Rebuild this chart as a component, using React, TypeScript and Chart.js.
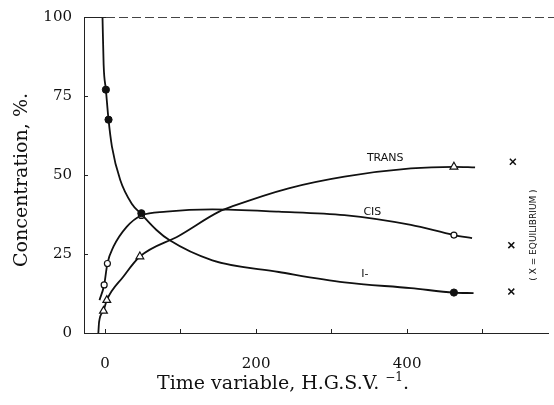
import React, { useEffect, useRef } from "react";
import { Chart, registerables } from "chart.js";

Chart.register(...registerables);

// ---- Data ----
// Smooth curves (values along the drawn lines)
const iCurveX = [-3.5, -2, 1, 4.5, 9, 20, 35, 48, 68, 85, 142, 230, 317, 405, 462, 488];
const iCurveY = [100, 85, 77, 67.5, 59, 48.4, 41, 37.6, 32.6, 29.4, 23, 19.3, 16, 14.2, 12.8, 12.6];

const cisCurveX = [-7.5, -1.3, 3, 11, 28.5, 48, 81, 142, 230, 317, 405, 462, 486];
const cisCurveY = [10.4, 15.2, 22, 27.3, 33.6, 37.2, 38.4, 39.1, 38.4, 37.3, 34.2, 31, 30];

const transCurveX = [-9, -8, -2.2, 2.2, 24, 46, 98, 151, 170, 243, 317, 405, 462, 490];
const transCurveY = [0, 3.5, 7, 10.4, 17.8, 24.2, 30.8, 38.4, 40.2, 45.8, 49.5, 52.1, 52.6, 52.4];

// Measured points (markers)
const iPointsX = [1, 4.5, 48, 462];
const iPointsY = [77, 67.5, 37.9, 12.8];
const cisPointsX = [-1.3, 3, 48, 462];
const cisPointsY = [15.2, 22, 37.2, 31];
const transPointsX = [-2.2, 2.2, 46, 462];
const transPointsY = [7, 10.4, 24.2, 52.6];
const eqPointsX = [540, 538, 538];
const eqPointsY = [54.2, 27.8, 13.1];

// Axis ticks
const yTicks = [0, 25, 50, 75, 100];
const xTickLabels = [0, 200, 400];

// Curve labels
const curveLabelText = ["TRANS", "CIS", "I-"];
const curveLabelX = [371, 354, 344];
const curveLabelY = [55.4, 38.3, 18.7];
const eqLabelText = "( X = EQUILIBRIUM )";
const eqLabelX = 567;
const eqLabelY = 31;

const yTitle = "Concentration, %.";
const xTitleMain = "Time variable, H.G.S.V.";
const xTitleSup = "\u22121";
const xTitleEnd = ".";

const zip = (xs: number[], ys: number[]) => xs.map((x, i) => ({ x, y: ys[i] }));

const overlayPlugin = {
  id: "overlay",
  afterDatasetsDraw(chart: any) {
    const { ctx, scales, chartArea } = chart;
    const xs = scales.x;
    const ys = scales.y;
    ctx.save();
    // top border (broken, as in a scanned figure)
    ctx.strokeStyle = "#222";
    ctx.lineWidth = 1;
    ctx.beginPath();
    ctx.moveTo(chartArea.left, chartArea.top + 0.5);
    ctx.lineTo(chartArea.left + 22, chartArea.top + 0.5);
    ctx.stroke();
    ctx.setLineDash([9, 4]);
    ctx.strokeStyle = "#444";
    ctx.beginPath();
    ctx.moveTo(chartArea.left + 22, chartArea.top + 0.5);
    ctx.lineTo(554, chartArea.top + 0.5);
    ctx.stroke();
    ctx.setLineDash([]);

    // curve labels
    ctx.fillStyle = "#111";
    ctx.font = '11px "DejaVu Sans"';
    ctx.textAlign = "center";
    ctx.textBaseline = "middle";
    curveLabelText.forEach((t, i) => {
      ctx.fillText(t, xs.getPixelForValue(curveLabelX[i]), ys.getPixelForValue(curveLabelY[i]));
    });

    // equilibrium label, rotated
    ctx.save();
    ctx.translate(xs.getPixelForValue(eqLabelX), ys.getPixelForValue(eqLabelY));
    ctx.rotate(-Math.PI / 2);
    ctx.font = '9px "DejaVu Sans"';
    ctx.fillText(eqLabelText, 0, 0);
    ctx.restore();

    // y axis title
    ctx.save();
    ctx.font = '19px "DejaVu Serif"';
    ctx.fillStyle = "#111";
    ctx.translate(22, 180);
    ctx.rotate(-Math.PI / 2);
    ctx.textAlign = "center";
    ctx.textBaseline = "middle";
    ctx.fillText(yTitle, 0, 0);
    ctx.restore();

    // x axis title with superscript
    ctx.save();
    ctx.fillStyle = "#111";
    ctx.textBaseline = "alphabetic";
    ctx.textAlign = "left";
    const mainFont = '19px "DejaVu Serif"';
    const supFont = '12px "DejaVu Serif"';
    ctx.font = mainFont;
    const w1 = ctx.measureText(xTitleMain + " ").width;
    const w3 = ctx.measureText(xTitleEnd).width;
    ctx.font = supFont;
    const w2 = ctx.measureText(xTitleSup).width;
    const total = w1 + w2 + w3;
    let px = 283 - total / 2;
    const base = 389;
    ctx.font = mainFont;
    ctx.fillText(xTitleMain + " ", px, base);
    px += w1;
    ctx.font = supFont;
    ctx.fillText(xTitleSup, px, base - 8);
    px += w2;
    ctx.font = mainFont;
    ctx.fillText(xTitleEnd, px, base);
    ctx.restore();

    ctx.restore();
  },
};

export default function App() {
  const ref = useRef<HTMLCanvasElement | null>(null);
  useEffect(() => {
    if (!ref.current) return;
    const black = "#111";
    const chart = new Chart(ref.current, {
      type: "scatter",
      data: {
        datasets: [
          {
            label: "I- points",
            data: zip(iPointsX, iPointsY),
            showLine: false,
            pointStyle: "circle",
            pointRadius: 3.6,
            backgroundColor: black,
            borderColor: black,
            borderWidth: 1,
          },
          {
            label: "CIS points",
            data: zip(cisPointsX, cisPointsY),
            showLine: false,
            pointStyle: "circle",
            pointRadius: 3,
            backgroundColor: "#fff",
            borderColor: black,
            borderWidth: 1.2,
          },
          {
            label: "TRANS points",
            data: zip(transPointsX, transPointsY),
            showLine: false,
            pointStyle: "triangle",
            pointRadius: 4.5,
            backgroundColor: "#fff",
            borderColor: black,
            borderWidth: 1.2,
          },
          {
            label: "Equilibrium",
            data: zip(eqPointsX, eqPointsY),
            showLine: false,
            pointStyle: "crossRot",
            pointRadius: 4.2,
            borderColor: black,
            borderWidth: 1.5,
          },
          {
            label: "I- curve",
            data: zip(iCurveX, iCurveY),
            showLine: true,
            pointRadius: 0,
            borderColor: black,
            borderWidth: 1.8,
            cubicInterpolationMode: "monotone",
          },
          {
            label: "CIS curve",
            data: zip(cisCurveX, cisCurveY),
            showLine: true,
            pointRadius: 0,
            borderColor: black,
            borderWidth: 1.8,
            cubicInterpolationMode: "monotone",
          },
          {
            label: "TRANS curve",
            data: zip(transCurveX, transCurveY),
            showLine: true,
            pointRadius: 0,
            borderColor: black,
            borderWidth: 1.8,
            cubicInterpolationMode: "monotone",
          },
        ],
      },
      options: {
        animation: false,
        responsive: false,
        devicePixelRatio: 1,
        layout: { padding: { left: 0, right: 2, top: 17, bottom: 0 } },
        plugins: { legend: { display: false }, tooltip: { enabled: false } },
        scales: {
          x: {
            type: "linear",
            min: -28,
            max: 587,
            afterFit: (s: any) => {
              s.height = 72;
              s.paddingLeft = 0;
              s.paddingRight = 0;
            },
            border: { display: true, color: "#222", width: 1 },
            grid: {
              display: true,
              drawOnChartArea: false,
              drawTicks: true,
              tickLength: -4,
              color: "#222",
            },
            ticks: {
              stepSize: 100,
              includeBounds: false,
              autoSkip: false,
              maxRotation: 0,
              padding: 26,
              color: "#111",
              font: { family: "DejaVu Serif", size: 15 },
              callback: (v: any) => (xTickLabels.includes(Number(v)) ? String(v) : ""),
            },
          },
          y: {
            type: "linear",
            min: 0,
            max: 100,
            afterFit: (s: any) => {
              s.width = 84;
              s.paddingTop = 0;
              s.paddingBottom = 0;
            },
            afterBuildTicks: (s: any) => {
              s.ticks = yTicks.map((v) => ({ value: v }));
            },
            border: { display: true, color: "#222", width: 1 },
            grid: {
              display: true,
              drawOnChartArea: false,
              drawTicks: true,
              tickLength: -4,
              color: "#222",
            },
            ticks: {
              padding: 16,
              color: "#111",
              font: { family: "DejaVu Serif", size: 15 },
            },
          },
        },
      },
      plugins: [overlayPlugin],
    } as any);
    return () => chart.destroy();
  }, []);

  return (
    <div style={{ position: "fixed", left: 0, top: 0, width: 554, height: 405, background: "#fff" }}>
      <canvas ref={ref} width={554} height={405} style={{ width: 554, height: 405 }} />
    </div>
  );
}
